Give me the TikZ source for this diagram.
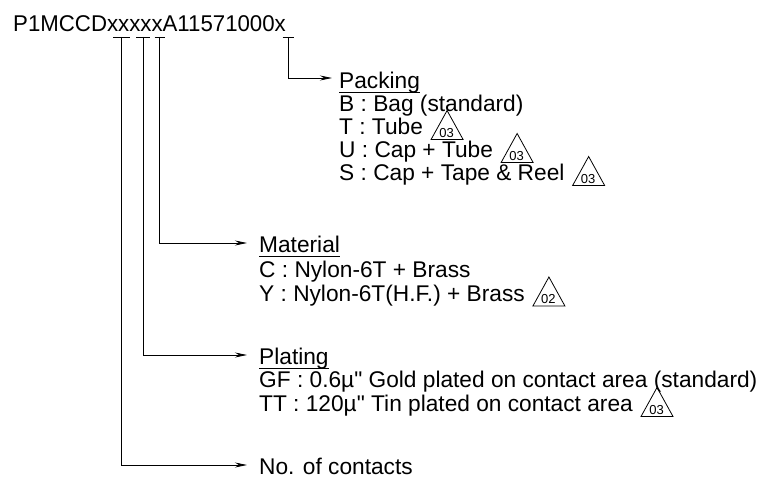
\documentclass[tikz,border=0pt]{standalone}
\usepackage{fontspec}
\setmainfont{Liberation Sans}[Ligatures=TeXOff]
\usetikzlibrary{arrows.meta,calc}
\newcommand\revtri[3]{% #1 text node, #2 number, #3 name
  \draw[tri] ($(#1.base east)+(8,5)$) -- ++(16,-29) -- ++(16,29) -- cycle;
  \node[revnum] (#3) at ($(#1.base east)+(23.5,2.5)$) {#2};}
\begin{document}
\begin{tikzpicture}[x=1pt,y=-1pt,
  lbl/.style={inner sep=0pt, anchor=base west, font=\fontsize{22.7}{27}\selectfont},
  conn/.style={line width=0.9pt, -{Stealth[length=12pt,width=5pt]}},
  tick/.style={line width=0.9pt},
  uline/.style={line width=1pt},
  tri/.style={line width=0.8pt, line join=miter},
  revnum/.style={inner sep=0pt, anchor=base, font=\fontsize{13}{13}\selectfont}]
\useasboundingbox (0,0) rectangle (770,487);
% title
\node[lbl, font=\fontsize{22.8}{27}\selectfont] (title) at (13,31.5) {\scalebox{0.975}[1]{P1MCCDxxxxxA11571000x}};
% tick marks under the code
\coordinate (tc) at (121.5,37);
\coordinate (tp) at (143,37);
\coordinate (tm) at (159.5,37);
\coordinate (tk) at (288,37);
\draw[tick] ($(tc)+(-8.5,0)$) -- ($(tc)+(8.5,0)$);
\draw[tick] ($(tp)+(-7,0)$) -- ($(tp)+(7,0)$);
\draw[tick] ($(tm)+(-5,0)$) -- ($(tm)+(5,0)$);
\draw[tick] ($(tk)+(-5.5,0)$) -- ($(tk)+(5.5,0)$);
% Packing
\node[lbl] (pk) at (339,88) {Packing};
\node[lbl] (pkb) at (339,111.5) {B : Bag (standard)};
\node[lbl] (pkt) at (339,134.5) {T : Tube};
\node[lbl] (pku) at (339,157.5) {U : Cap + Tube};
\node[lbl] (pks) at (339,180.5) {S : Cap + Tape \& Reel};
\revtri{pkt}{03}{rt1}
\revtri{pku}{03}{rt2}
\revtri{pks}{03}{rt3}
% Material
\node[lbl] (ma) at (259,252.5) {Material};
\node[lbl] (mac) at (259,277) {C : Nylon-6T + Brass};
\node[lbl] (may) at (259,301) {Y : Nylon-6T(H.F.) + Brass};
\revtri{may}{02}{rt4}
% Plating
\node[lbl] (pl) at (259,364.5) {Plating};
\node[lbl] (plg) at (259,387.5) {GF : 0.6µ" Gold plated on contact area (standard)};
\node[lbl] (plt) at (259,411.5) {TT : 120µ" Tin plated on contact area};
\revtri{plt}{03}{rt5}
% No. of contacts
\node[lbl] (nc) at (259,474.5) {No. of contacts};
% underlines
\draw[uline] ($(pk.base west)+(0,4)$) -- ($(pk.base east)+(0,4)$);
\draw[uline] ($(ma.base west)+(0,3.5)$) -- ($(ma.base east)+(0,3.5)$);
\draw[uline] ($(pl.base west)+(0,4)$) -- ($(pl.base east)+(0,4)$);
% connectors
\draw[conn] (tk) |- ($(pk.base west)+(-7,-10)$);
\draw[conn] (tm) |- ($(ma.base west)+(-12,-9.5)$);
\draw[conn] (tp) |- ($(pl.base west)+(-12,-9.5)$);
\draw[conn] (tc) |- ($(nc.base west)+(-12,-9.5)$);
\end{tikzpicture}
\end{document}
